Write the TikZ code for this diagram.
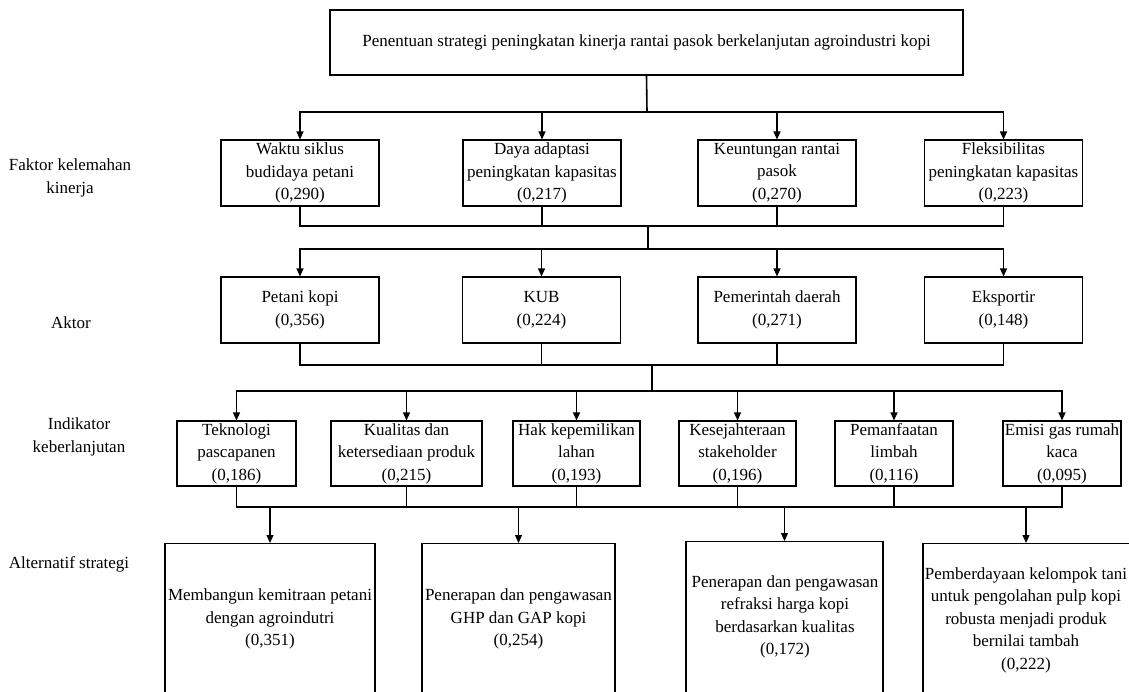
\documentclass[tikz,border=0pt]{standalone}
\usepackage{fontspec}
\setmainfont{Liberation Serif}
\usetikzlibrary{arrows.meta}
\newcommand\diagfont{\fontsize{17}{22.5}\selectfont}
\begin{document}
\begin{tikzpicture}[x=1pt,y=-1pt,
  box/.style={draw, line width=1.1pt, align=center, inner sep=1pt, font=\diagfont},
  factor/.style={box, minimum width=158pt, minimum height=66pt},
  actor/.style={box, minimum width=158pt, minimum height=66pt},
  indic/.style={box, minimum height=65pt},
  frame/.style={draw, line width=1.1pt, minimum height=170pt, anchor=north, inner sep=0pt},
  txt/.style={align=center, inner sep=0pt, font=\diagfont},
  link/.style={line width=1.1pt},
  arr/.style={line width=1.1pt, -{Triangle[length=8pt,width=7pt]}}]
\useasboundingbox (0,0) rectangle (1129,691);
\clip (0,0) rectangle (1129,691);

% goal
\node[box, minimum width=633pt, minimum height=65pt] (goal) at (646.5,42.5)
  {Penentuan strategi peningkatan kinerja rantai pasok berkelanjutan agroindustri kopi};

% level labels
\node[txt] (l1) at (70,178) {Faktor kelemahan\\kinerja};
\node[txt] (l2) at (71,323) {Aktor};
\node[txt] (l3) at (79,437) {Indikator\\keberlanjutan};
\node[txt] (l4) at (69,564) {Alternatif strategi};

% performance weakness factors
\node[factor] (f1) at (300,173)    {Waktu siklus\\budidaya petani\\(0,290)};
\node[factor] (f2) at (542,173)    {Daya adaptasi\\peningkatan kapasitas\\(0,217)};
\node[factor] (f3) at (777,173)    {Keuntungan rantai\\pasok\\(0,270)};
\node[factor] (f4) at (1003.5,173) {Fleksibilitas\\peningkatan kapasitas\\(0,223)};

% actors
\node[actor] (a1) at (300,310)    {Petani kopi\\(0,356)};
\node[actor] (a2) at (541.5,310)  {KUB\\(0,224)};
\node[actor] (a3) at (777,310)    {Pemerintah daerah\\(0,271)};
\node[actor] (a4) at (1003.5,310) {Eksportir\\(0,148)};

% sustainability indicators
\node[indic, minimum width=119pt] (i1) at (236.5,453.5) {Teknologi\\pascapanen\\(0,186)};
\node[indic, minimum width=151pt] (i2) at (406.5,453.5) {Kualitas dan\\ketersediaan produk\\(0,215)};
\node[indic, minimum width=127pt] (i3) at (576.5,453.5) {Hak kepemilikan\\lahan\\(0,193)};
\node[indic, minimum width=117pt] (i4) at (737.5,453.5) {Kesejahteraan\\stakeholder\\(0,196)};
\node[indic, minimum width=118pt] (i5) at (894,453.5)   {Pemanfaatan\\limbah\\(0,116)};
\node[indic, minimum width=118pt] (i6) at (1062,453.5)  {Emisi gas rumah\\kaca\\(0,095)};

% strategy alternatives (frames run past the lower edge)
\node[frame, minimum width=210pt] (s1) at (270,543)   {};
\node[frame, minimum width=193pt] (s2) at (518.5,543) {};
\node[frame, minimum width=197pt] (s3) at (784.5,541) {};
\node[frame, minimum width=214pt] (s4) at (1030,543)  {};
\node[txt] (t1) at (270,619) {Membangun kemitraan petani\\dengan agroindutri\\(0,351)};
\node[txt] (t2) at (518.5,619) {Penerapan dan pengawasan\\GHP dan GAP kopi\\(0,254)};
\node[txt] (t3) at (785,617) {Penerapan dan pengawasan\\refraksi harga kopi\\berdasarkan kualitas\\(0,172)};
\node[txt] (t4) at (1026,620) {Pemberdayaan kelompok tani\\untuk pengolahan pulp kopi\\robusta menjadi produk\\bernilai tambah\\(0,222)};

% junction points
\coordinate (j0) at (647,112);
\coordinate (c1) at (648,226);
\coordinate (j1) at (648,249);
\coordinate (c2) at (652,365);
\coordinate (j2) at (652,391);
\coordinate (c3) at (650,507);

% goal -> factors
\draw[link, line width=1.6pt] (goal.south) -- (j0);
\foreach \n in {f1,f2,f3,f4} \draw[arr] (j0) -| (\n.north);

% factors -> actors
\foreach \n in {f1,f2,f3,f4} \draw[link] (\n.south) |- (c1);
\draw[link, line width=1.4pt] (c1) -- (j1);
\foreach \n in {a1,a2,a3,a4} \draw[arr] (j1) -| (\n.north);

% actors -> indicators
\foreach \n in {a1,a2,a3,a4} \draw[link] (\n.south) |- (c2);
\draw[link, line width=1.4pt] (c2) -- (j2);
\foreach \n in {i1,i2,i3,i4,i5,i6} \draw[arr] (j2) -| (\n.north);

% indicators -> strategies
\foreach \n in {i1,i2,i3,i4,i5,i6} \draw[link] (\n.south) |- (c3);
\foreach \n in {s1,s2,s3} \draw[arr] (\n.north |- c3) -- (\n.north);
\draw[arr] ([xshift=-4pt]s4.north |- c3) -- ([xshift=-4pt]s4.north);
\end{tikzpicture}
\end{document}
